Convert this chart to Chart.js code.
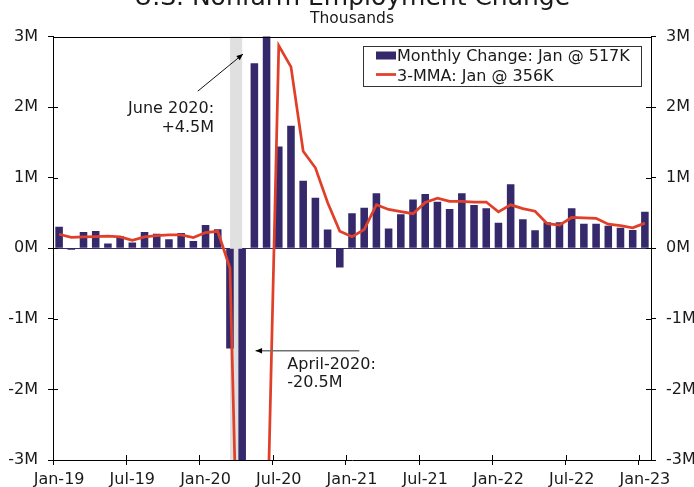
<!DOCTYPE html>
<html>
<head>
<meta charset="utf-8">
<script src="https://cdn.jsdelivr.net/npm/chart.js@4.4.0/dist/chart.umd.min.js"></script>
<style>
  html, body { margin: 0; padding: 0; background: #ffffff; }
  #wrap { position: relative; width: 694px; height: 487px; overflow: hidden; }
  canvas { display: block; }
</style>
</head>
<body>
<div id="wrap"><canvas id="chart" width="694" height="487"></canvas></div>
<script>
// Monthly nonfarm payroll change, thousands of jobs
const months = [
  'Jan-19','Feb-19','Mar-19','Apr-19','May-19','Jun-19','Jul-19','Aug-19','Sep-19','Oct-19','Nov-19','Dec-19',
  'Jan-20','Feb-20','Mar-20','Apr-20','May-20','Jun-20','Jul-20','Aug-20','Sep-20','Oct-20','Nov-20','Dec-20',
  'Jan-21','Feb-21','Mar-21','Apr-21','May-21','Jun-21','Jul-21','Aug-21','Sep-21','Oct-21','Nov-21','Dec-21',
  'Jan-22','Feb-22','Mar-22','Apr-22','May-22','Jun-22','Jul-22','Aug-22','Sep-22','Oct-22','Nov-22','Dec-22',
  'Jan-23'
];

const monthlyChange = [
  306, -20, 231, 245, 66, 170, 80, 231, 207, 127, 217, 103,
  330, 268, -1420, -20500, 2620, 4500, 1443, 1735, 957, 717, 264, -273,
  495, 574, 778, 280, 481, 690, 768, 659, 556, 778, 613, 566,
  363, 905, 410, 255, 368, 368, 566, 348, 348, 320, 292, 259,
  517
];

// Three-month moving average, thousands
const mma3 = [
  198, 155, 160, 165, 172, 162, 113, 162, 178, 190, 190, 152,
  222, 240, -280, -7220, -6430, -4460, 2870, 2570, 1375, 1140, 648, 240,
  162, 265, 618, 550, 520, 490, 648, 708, 664, 665, 654, 655,
  516, 615, 562, 525, 348, 328, 436, 430, 425, 341, 320, 290,
  356
];

const yTicks = [-3000, -2000, -1000, 0, 1000, 2000, 3000];
const xTickEvery = 6;
const recession = ['Mar-20', 'Apr-20'];

const titleText = 'U.S. Nonfarm Employment Change';
const subtitleText = 'Thousands';
const barLabel = 'Monthly Change: Jan @ 517K';
const lineLabel = '3-MMA: Jan @ 356K';

const NAVY = '#35296b';
const RED = '#e0402a';
const INK = '#1a1a1a';
const FONT = '"DejaVu Sans", Verdana, sans-serif';

// callouts, positioned in category-index / thousands units
const callouts = [
  { lines: ['June 2020:', '+4.5M'], align: 'right', x: 12.7, y: 1913, lineStep: 19,
    arrow: { from: [11.36, 2225], to: [15.07, 2751], color: '#111', width: 1 } },
  { lines: ['April-2020:', '-20.5M'], align: 'left', x: 18.7, y: -1711, lineStep: 17.5,
    arrow: { from: [24.6, -1453], to: [16.1, -1453], color: '#707070', width: 1.5 } }
];

Chart.defaults.font.family = FONT;
Chart.defaults.font.size = 16;
Chart.defaults.color = INK;

function arrowHead(ctx, x0, y0, x1, y1, size) {
  const a = Math.atan2(y1 - y0, x1 - x0);
  ctx.beginPath();
  ctx.moveTo(x1, y1);
  ctx.lineTo(x1 - size * Math.cos(a - 0.4), y1 - size * Math.sin(a - 0.4));
  ctx.lineTo(x1 - size * Math.cos(a + 0.4), y1 - size * Math.sin(a + 0.4));
  ctx.closePath();
  ctx.fill();
}

const decorations = {
  id: 'decorations',
  beforeDatasetsDraw(chart) {
    const { ctx, chartArea: a, scales: { x } } = chart;
    // shaded recession band between the two month centres
    const x0 = x.getPixelForValue(months.indexOf(recession[0]));
    const x1 = x.getPixelForValue(months.indexOf(recession[1]));
    ctx.save();
    ctx.fillStyle = '#e0e0e0';
    ctx.fillRect(x0, a.top, x1 - x0, a.bottom - a.top);
    ctx.restore();
  },
  afterDraw(chart) {
    const { ctx, chartArea: a, scales: { x, y } } = chart;
    ctx.save();

    // titles, centred on the plot
    const cx = (a.left + a.right) / 2;
    ctx.fillStyle = INK;
    ctx.textAlign = 'center';
    ctx.textBaseline = 'alphabetic';
    ctx.font = '25px ' + FONT;
    ctx.fillText(titleText, cx, 5);
    ctx.font = '15.5px ' + FONT;
    ctx.fillText(subtitleText, cx, 23);

    // frame top and inward tick stubs
    ctx.strokeStyle = '#000';
    ctx.lineWidth = 1;
    ctx.beginPath();
    ctx.moveTo(a.left, Math.round(a.top) + 0.5);
    ctx.lineTo(a.right, Math.round(a.top) + 0.5);
    yTicks.forEach(v => {
      const py = Math.round(y.getPixelForValue(v)) + 0.5;
      ctx.moveTo(a.left, py); ctx.lineTo(a.left + 5, py);
      ctx.moveTo(a.right - 5, py); ctx.lineTo(a.right, py);
    });
    for (let i = 0; i < months.length; i += xTickEvery) {
      const px = Math.round(x.getPixelForValue(i - 0.5)) + 0.5;
      ctx.moveTo(px, a.bottom); ctx.lineTo(px, a.bottom - 5);
    }
    ctx.stroke();

    // callouts
    callouts.forEach(c => {
      ctx.font = '16px ' + FONT;
      ctx.fillStyle = INK;
      ctx.textAlign = c.align;
      const tx = x.getPixelForValue(c.x);
      const ty = y.getPixelForValue(c.y);
      c.lines.forEach((t, k) => ctx.fillText(t, tx, ty + k * c.lineStep));
      const ax0 = x.getPixelForValue(c.arrow.from[0]);
      const ay0 = y.getPixelForValue(c.arrow.from[1]);
      const ax1 = x.getPixelForValue(c.arrow.to[0]);
      const ay1 = y.getPixelForValue(c.arrow.to[1]);
      ctx.strokeStyle = c.arrow.color;
      ctx.lineWidth = c.arrow.width;
      ctx.beginPath();
      ctx.moveTo(ax0, ay0);
      ctx.lineTo(ax1, ay1);
      ctx.stroke();
      ctx.fillStyle = '#000';
      arrowHead(ctx, ax0, ay0, ax1, ay1, 7);
    });

    // legend box in the upper right of the plot
    const ds = chart.data.datasets;
    const bx = a.right - 288, by = a.top + 9, bw = 278, bh = 40;
    ctx.fillStyle = '#fff';
    ctx.fillRect(bx, by, bw, bh);
    ctx.strokeStyle = '#333';
    ctx.lineWidth = 1;
    ctx.strokeRect(Math.round(bx) + 0.5, Math.round(by) + 0.5, bw, bh);
    const sx = bx + 13;
    ctx.font = '16px ' + FONT;
    ctx.textAlign = 'left';
    ctx.fillStyle = ds[1].backgroundColor;
    ctx.fillRect(sx, by + 6, 20, 8);
    ctx.fillStyle = INK;
    ctx.fillText(ds[1].label, sx + 21, by + 15);
    ctx.strokeStyle = ds[0].borderColor;
    ctx.lineWidth = 2.75;
    ctx.beginPath();
    ctx.moveTo(sx, by + 29); ctx.lineTo(sx + 20, by + 29);
    ctx.stroke();
    ctx.fillText(ds[0].label, sx + 21, by + 35);

    ctx.restore();
  }
};

new Chart(document.getElementById('chart'), {
  data: {
    labels: months,
    datasets: [
      {
        type: 'line', label: lineLabel, data: mma3,
        borderColor: RED, borderWidth: 2.75, pointRadius: 0, tension: 0,
        yAxisID: 'y', order: 1
      },
      {
        type: 'bar', label: barLabel, data: monthlyChange,
        backgroundColor: NAVY, borderWidth: 0,
        categoryPercentage: 1, barPercentage: 0.62,
        yAxisID: 'y', order: 2
      }
    ]
  },
  options: {
    responsive: false,
    animation: false,
    devicePixelRatio: 1,
    layout: { padding: { top: 36.5, left: 0, right: 0, bottom: 0 } },
    plugins: { legend: { display: false }, tooltip: { enabled: false }, title: { display: false } },
    scales: {
      x: {
        type: 'category', offset: true,
        grid: {
          offset: true, drawOnChartArea: false, tickLength: 5,
          tickColor: c => (c.index !== undefined && c.index % xTickEvery === 0) ? '#000' : 'rgba(0,0,0,0)'
        },
        border: { display: true, color: '#000' },
        ticks: {
          autoSkip: false, maxRotation: 0, padding: 5,
          callback: function (v, i) { return i % xTickEvery === 0 ? this.getLabelForValue(v) : ''; }
        },
        afterFit: s => { s.height = 27; }
      },
      y: {
        position: 'left', min: -3000, max: 3000,
        afterBuildTicks: s => { s.ticks = yTicks.map(v => ({ value: v })); },
        grid: {
          drawOnChartArea: true, tickLength: 5, tickColor: '#000',
          color: c => (c.tick && c.tick.value === 0) ? NAVY : 'rgba(0,0,0,0)'
        },
        border: { display: true, color: '#000' },
        ticks: { padding: 10, callback: v => (v / 1000) + 'M' },
        afterFit: s => { s.width = 53; }
      },
      y2: {
        position: 'right', min: -3000, max: 3000,
        afterBuildTicks: s => { s.ticks = yTicks.map(v => ({ value: v })); },
        grid: { drawOnChartArea: false, tickLength: 5, tickColor: '#000' },
        border: { display: true, color: '#000' },
        ticks: { padding: 10, callback: v => (v / 1000) + 'M' },
        afterFit: s => { s.width = 43; }
      }
    }
  },
  plugins: [decorations]
});
</script>
</body>
</html>
